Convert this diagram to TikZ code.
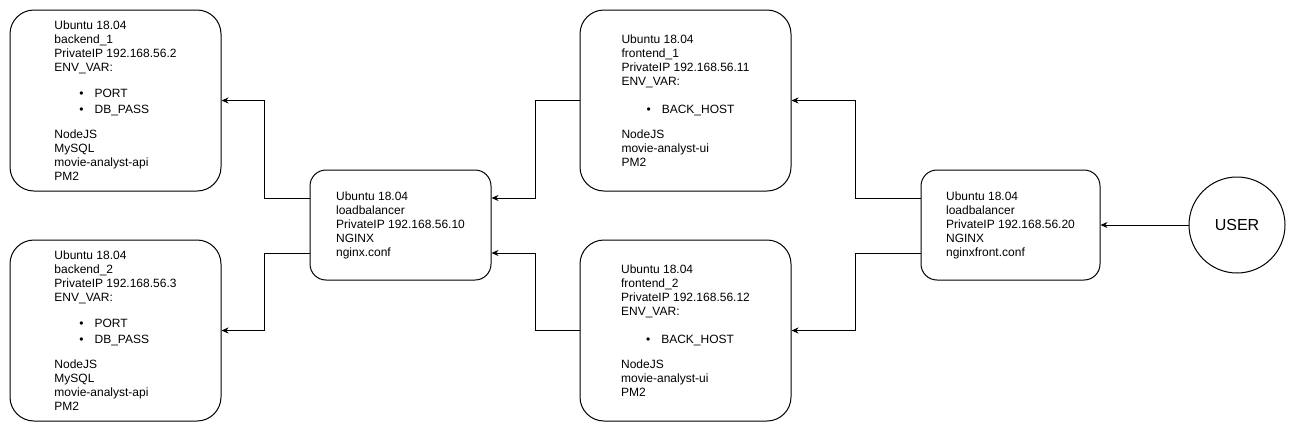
\documentclass[tikz,border=0pt]{standalone}
\usepackage{fontspec}
\setmainfont{Liberation Sans}
\usetikzlibrary{arrows.meta}

\tikzset{
  vm/.style={draw, line width=1pt, rounded corners=24pt, minimum width=211pt, minimum height=181pt,
    align=left, font=\fontsize{12}{14}\selectfont},
  lb/.style={vm, rounded corners=16pt, minimum width=181pt, minimum height=110pt},
  conn/.style={line width=1pt, -{Stealth[length=7pt,width=6pt]}}
}
\newcommand{\envitem}[1]{\hspace*{25pt}\textbullet\hspace{11pt}#1}

\begin{document}
\begin{tikzpicture}[x=1pt, y=-1pt]
    \useasboundingbox (0,0) rectangle (1296,432);

    \node [vm] (be1) at (115.5,100.5) {Ubuntu 18.04\\ backend\_1\\ PrivateIP 192.168.56.2\\ ENV\_VAR:\\[12pt]
        \envitem{PORT}\\[2pt] \envitem{DB\_PASS}\\[11pt] NodeJS\\ MySQL\\ movie-analyst-api\\ PM2};
    \node [vm] (be2) at (115.5,330.5) {Ubuntu 18.04\\ backend\_2\\ PrivateIP 192.168.56.3\\ ENV\_VAR:\\[12pt]
        \envitem{PORT}\\[2pt] \envitem{DB\_PASS}\\[11pt] NodeJS\\ MySQL\\ movie-analyst-api\\ PM2};
    \node [lb] (lb1) at (400.5,225) {Ubuntu 18.04\\ loadbalancer\\ PrivateIP 192.168.56.10\\ NGINX\\ nginx.conf};
    \node [vm] (fe1) at (685.5,100.5) {Ubuntu 18.04\\ frontend\_1\\ PrivateIP 192.168.56.11\\ ENV\_VAR:\\[14pt]
        \envitem{BACK\_HOST}\\[11pt] NodeJS\\ movie-analyst-ui\\ PM2};
    \node [vm] (fe2) at (685.5,330.5) {Ubuntu 18.04\\ frontend\_2\\ PrivateIP 192.168.56.12\\ ENV\_VAR:\\[14pt]
        \envitem{BACK\_HOST}\\[11pt] NodeJS\\ movie-analyst-ui\\ PM2};
    \node [lb, minimum width=179pt] (lb2) at (1010.5,225) {Ubuntu 18.04\\ loadbalancer\\ PrivateIP 192.168.56.20\\ NGINX\\ nginxfront.conf};
    \node [draw, line width=1pt, circle, minimum size=96pt, font=\fontsize{16}{19}\selectfont] (user) at (1237,225) {USER};

    \draw [conn] (user) -- (lb2);
    \draw [conn] ([yshift=27pt]lb2.west) -- ++(-65,0) |- (fe1.east);
    \draw [conn] ([yshift=-28pt]lb2.west) -- ++(-65,0) |- (fe2.east);
    \draw [conn] (fe1.west) -- ++(-44,0) |- ([yshift=27pt]lb1.east);
    \draw [conn] (fe2.west) -- ++(-44,0) |- ([yshift=-28pt]lb1.east);
    \draw [conn] ([yshift=27pt]lb1.west) -- ++(-45,0) |- (be1.east);
    \draw [conn] ([yshift=-28pt]lb1.west) -- ++(-45,0) |- (be2.east);
\end{tikzpicture}
\end{document}
